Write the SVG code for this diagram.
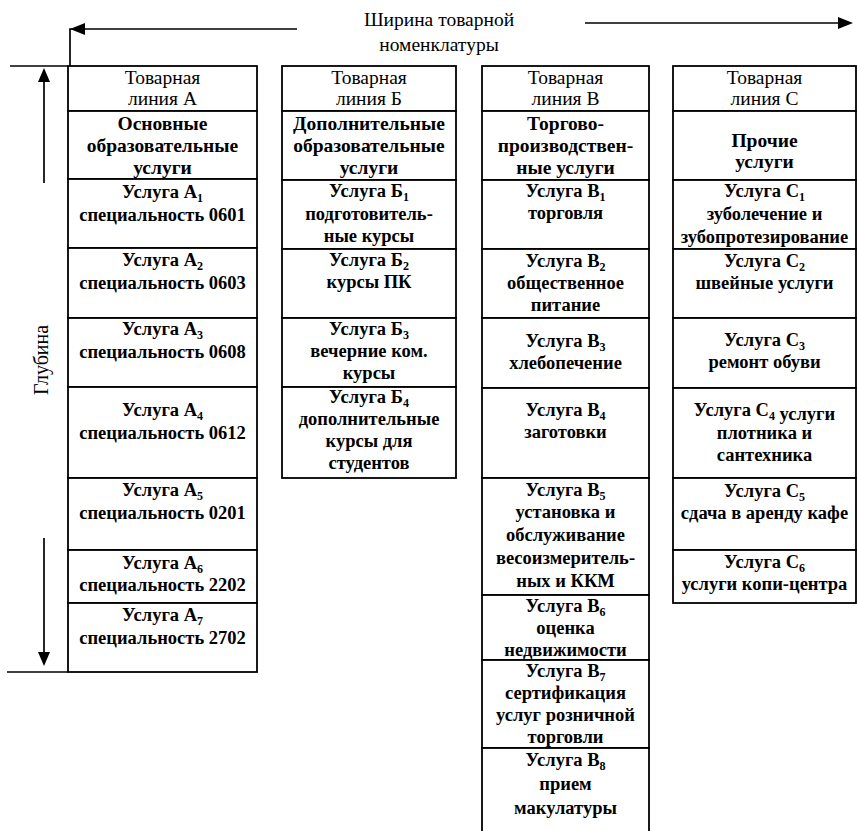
<svg xmlns="http://www.w3.org/2000/svg" width="857" height="831" viewBox="0 0 857 831">
<style>
.box{fill:#fff;stroke:#000;stroke-width:1.8}
.ln{fill:none;stroke:#000;stroke-width:1.7}
.ah{fill:#000;stroke:none}
.t{font-family:"Liberation Serif","Times New Roman",serif;font-size:18.5px;text-anchor:middle;fill:#000}
.b{font-weight:bold}
.h{font-size:19.5px}
.r{font-size:19.5px}
.s{font-size:12px}
</style>
<rect width="857" height="831" fill="#fff"/>
<g id="connectors">
<path class="ln" d="M70,66 V29 H297"/>
<polygon class="ah" points="70,29 85,23 85,35"/>
<line class="ln" x1="585" y1="23" x2="840" y2="23"/>
<polygon class="ah" points="853,23 838,17 838,29"/>
<line class="ln" x1="10" y1="66" x2="68" y2="66"/>
<line class="ln" x1="7" y1="672" x2="68" y2="672"/>
<line class="ln" x1="44" y1="183" x2="44" y2="80"/>
<polygon class="ah" points="44,68 38,82 50,82"/>
<line class="ln" x1="44" y1="538" x2="44" y2="654"/>
<polygon class="ah" points="44,666 38,652 50,652"/>
</g>
<g id="title">
<text class="t r"><tspan x="439" y="26">Ширина товарной</tspan><tspan x="439" y="51">номенклатуры</tspan></text>
</g>
<g id="depth">
<text class="t" style="font-size:20px" transform="translate(48,360) rotate(-90)">Глубина</text>
</g>
<g id="colA">
<g id="A0"><rect class="box" x="68" y="66" width="189" height="45"/><text class="t r"><tspan x="162.5" y="84">Товарная</tspan><tspan x="162.5" y="105">линия А</tspan></text></g>
<g id="AH"><rect class="box" x="68" y="111" width="189" height="68"/><text class="t b h"><tspan x="162.5" y="130">Основные</tspan><tspan x="162.5" y="152">образовательные</tspan><tspan x="162.5" y="174">услуги</tspan></text></g>
<g id="A1"><rect class="box" x="68" y="179" width="189" height="69"/><text class="t b"><tspan x="162.5" y="198">Услуга А<tspan class="s" dy="4">1</tspan></tspan><tspan x="162.5" y="221">специальность 0601</tspan></text></g>
<g id="A2"><rect class="box" x="68" y="248" width="189" height="70"/><text class="t b"><tspan x="162.5" y="266">Услуга А<tspan class="s" dy="4">2</tspan></tspan><tspan x="162.5" y="289">специальность 0603</tspan></text></g>
<g id="A3"><rect class="box" x="68" y="318" width="189" height="69"/><text class="t b"><tspan x="162.5" y="335">Услуга А<tspan class="s" dy="4">3</tspan></tspan><tspan x="162.5" y="358">специальность 0608</tspan></text></g>
<g id="A4"><rect class="box" x="68" y="387" width="189" height="91"/><text class="t b"><tspan x="162.5" y="416">Услуга А<tspan class="s" dy="4">4</tspan></tspan><tspan x="162.5" y="439">специальность 0612</tspan></text></g>
<g id="A5"><rect class="box" x="68" y="478" width="189" height="72"/><text class="t b"><tspan x="162.5" y="496">Услуга А<tspan class="s" dy="4">5</tspan></tspan><tspan x="162.5" y="519">специальность 0201</tspan></text></g>
<g id="A6"><rect class="box" x="68" y="550" width="189" height="53"/><text class="t b"><tspan x="162.5" y="569">Услуга А<tspan class="s" dy="4">6</tspan></tspan><tspan x="162.5" y="591">специальность 2202</tspan></text></g>
<g id="A7"><rect class="box" x="68" y="603" width="189" height="69"/><text class="t b"><tspan x="162.5" y="621">Услуга А<tspan class="s" dy="4">7</tspan></tspan><tspan x="162.5" y="644">специальность 2702</tspan></text></g>
</g>
<g id="colB">
<g id="B0"><rect class="box" x="282" y="66" width="174" height="45"/><text class="t r"><tspan x="369" y="84">Товарная</tspan><tspan x="369" y="105">линия Б</tspan></text></g>
<g id="BH"><rect class="box" x="282" y="111" width="174" height="69"/><text class="t b h"><tspan x="369" y="130">Дополнительные</tspan><tspan x="369" y="152">образовательные</tspan><tspan x="369" y="174">услуги</tspan></text></g>
<g id="B1"><rect class="box" x="282" y="180" width="174" height="69"/><text class="t b"><tspan x="369" y="197">Услуга Б<tspan class="s" dy="4">1</tspan></tspan><tspan x="369" y="220">подготовитель-</tspan><tspan x="369" y="242">ные курсы</tspan></text></g>
<g id="B2"><rect class="box" x="282" y="249" width="174" height="69"/><text class="t b"><tspan x="369" y="266">Услуга Б<tspan class="s" dy="4">2</tspan></tspan><tspan x="369" y="288">курсы ПК</tspan></text></g>
<g id="B3"><rect class="box" x="282" y="318" width="174" height="69"/><text class="t b"><tspan x="369" y="335">Услуга Б<tspan class="s" dy="4">3</tspan></tspan><tspan x="369" y="357">вечерние ком.</tspan><tspan x="369" y="379">курсы</tspan></text></g>
<g id="B4"><rect class="box" x="282" y="387" width="174" height="91"/><text class="t b"><tspan x="369" y="403">Услуга Б<tspan class="s" dy="4">4</tspan></tspan><tspan x="369" y="425">дополнительные</tspan><tspan x="369" y="447">курсы для</tspan><tspan x="369" y="469">студентов</tspan></text></g>
</g>
<g id="colV">
<g id="V0"><rect class="box" x="482" y="66" width="167" height="45"/><text class="t r"><tspan x="565.5" y="84">Товарная</tspan><tspan x="565.5" y="105">линия В</tspan></text></g>
<g id="VH"><rect class="box" x="482" y="111" width="167" height="69"/><text class="t b h"><tspan x="565.5" y="130">Торгово-</tspan><tspan x="565.5" y="152">производствен-</tspan><tspan x="565.5" y="174">ные услуги</tspan></text></g>
<g id="V1"><rect class="box" x="482" y="180" width="167" height="69"/><text class="t b"><tspan x="565.5" y="197">Услуга В<tspan class="s" dy="4">1</tspan></tspan><tspan x="565.5" y="219">торговля</tspan></text></g>
<g id="V2"><rect class="box" x="482" y="249" width="167" height="69"/><text class="t b"><tspan x="565.5" y="267">Услуга В<tspan class="s" dy="4">2</tspan></tspan><tspan x="565.5" y="289">общественное</tspan><tspan x="565.5" y="311">питание</tspan></text></g>
<g id="V3"><rect class="box" x="482" y="318" width="167" height="70"/><text class="t b"><tspan x="565.5" y="347">Услуга В<tspan class="s" dy="4">3</tspan></tspan><tspan x="565.5" y="369">хлебопечение</tspan></text></g>
<g id="V4"><rect class="box" x="482" y="388" width="167" height="90"/><text class="t b"><tspan x="565.5" y="416">Услуга В<tspan class="s" dy="4">4</tspan></tspan><tspan x="565.5" y="438">заготовки</tspan></text></g>
<g id="V5"><rect class="box" x="482" y="478" width="167" height="117"/><text class="t b"><tspan x="565.5" y="496">Услуга В<tspan class="s" dy="4">5</tspan></tspan><tspan x="565.5" y="518">установка и</tspan><tspan x="565.5" y="541">обслуживание</tspan><tspan x="565.5" y="564">весоизмеритель-</tspan><tspan x="565.5" y="587">ных и ККМ</tspan></text></g>
<g id="V6"><rect class="box" x="482" y="595" width="167" height="65"/><text class="t b"><tspan x="565.5" y="612">Услуга В<tspan class="s" dy="4">6</tspan></tspan><tspan x="565.5" y="634">оценка</tspan><tspan x="565.5" y="656">недвижимости</tspan></text></g>
<g id="V7"><rect class="box" x="482" y="660" width="167" height="88"/><text class="t b"><tspan x="565.5" y="677">Услуга В<tspan class="s" dy="4">7</tspan></tspan><tspan x="565.5" y="699">сертификация</tspan><tspan x="565.5" y="721">услуг розничной</tspan><tspan x="565.5" y="743">торговли</tspan></text></g>
<g id="V8"><rect class="box" x="482" y="748" width="167" height="95"/><text class="t b"><tspan x="565.5" y="766">Услуга В<tspan class="s" dy="4">8</tspan></tspan><tspan x="565.5" y="790">прием</tspan><tspan x="565.5" y="814">макулатуры</tspan></text></g>
</g>
<g id="colC">
<g id="C0"><rect class="box" x="673" y="66" width="183" height="45"/><text class="t r"><tspan x="764.5" y="84">Товарная</tspan><tspan x="764.5" y="105">линия С</tspan></text></g>
<g id="CH"><rect class="box" x="673" y="111" width="183" height="69"/><text class="t b h"><tspan x="764.5" y="147">Прочие</tspan><tspan x="764.5" y="168">услуги</tspan></text></g>
<g id="C1"><rect class="box" x="673" y="180" width="183" height="69"/><text class="t b"><tspan x="764.5" y="197">Услуга С<tspan class="s" dy="4">1</tspan></tspan><tspan x="764.5" y="220">зуболечение и</tspan><tspan x="764.5" y="243">зубопротезирование</tspan></text></g>
<g id="C2"><rect class="box" x="673" y="249" width="183" height="69"/><text class="t b"><tspan x="764.5" y="267">Услуга С<tspan class="s" dy="4">2</tspan></tspan><tspan x="764.5" y="289">швейные услуги</tspan></text></g>
<g id="C3"><rect class="box" x="673" y="318" width="183" height="70"/><text class="t b"><tspan x="764.5" y="346">Услуга С<tspan class="s" dy="4">3</tspan></tspan><tspan x="764.5" y="368">ремонт обуви</tspan></text></g>
<g id="C4"><rect class="box" x="673" y="388" width="183" height="90"/><text class="t b"><tspan x="764.5" y="416">Услуга С<tspan class="s" dy="4">4</tspan> услуги</tspan><tspan x="764.5" y="439">плотника и</tspan><tspan x="764.5" y="461">сантехника</tspan></text></g>
<g id="C5"><rect class="box" x="673" y="478" width="183" height="72"/><text class="t b"><tspan x="764.5" y="497">Услуга С<tspan class="s" dy="4">5</tspan></tspan><tspan x="764.5" y="519">сдача в аренду кафе</tspan></text></g>
<g id="C6"><rect class="box" x="673" y="550" width="183" height="53"/><text class="t b"><tspan x="764.5" y="568">Услуга С<tspan class="s" dy="4">6</tspan></tspan><tspan x="764.5" y="590">услуги копи-центра</tspan></text></g>
</g>
</svg>
